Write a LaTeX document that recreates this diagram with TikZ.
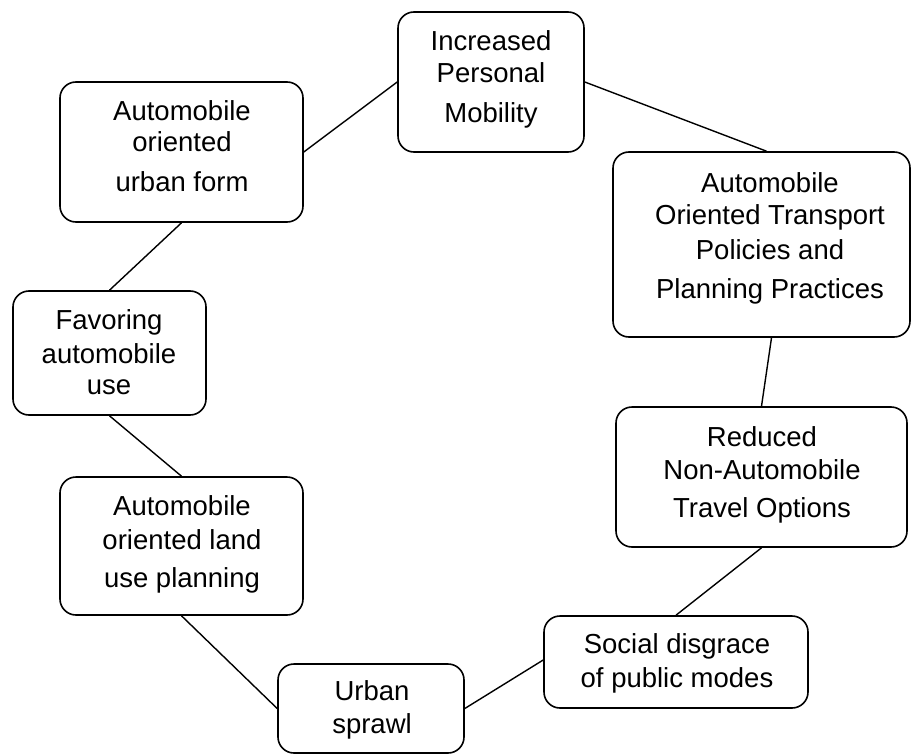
\documentclass[tikz,border=0pt]{standalone}
\usepackage{fontspec}
\setmainfont{Liberation Sans}
\begin{document}
\begin{tikzpicture}[x=1pt,y=-1pt,
  box/.style={draw=black,line width=1.6pt,rounded corners=16pt,rectangle,inner sep=0pt},
  lbl/.style={anchor=base,inner sep=0pt,font=\fontsize{27.5}{33}\selectfont},
  link/.style={draw=black,line width=1.4pt}]
\useasboundingbox (0,0) rectangle (920,754);
% boxes
\node[box,minimum width=186pt,minimum height=140pt] (b1) at (491,82) {};
\node[box,minimum width=297pt,minimum height=185pt] (b2) at (761.5,244.5) {};
\node[box,minimum width=291pt,minimum height=140pt] (b3) at (761.5,477) {};
\node[box,minimum width=264pt,minimum height=92pt] (b4) at (676,662) {};
\node[box,minimum width=186pt,minimum height=89pt] (b5) at (371,708.5) {};
\node[box,minimum width=243pt,minimum height=138pt] (b6) at (181.5,546) {};
\node[box,minimum width=193pt,minimum height=124pt] (b7) at (109.5,353) {};
\node[box,minimum width=243pt,minimum height=140pt] (b8) at (181.5,152) {};
% texts
\node[lbl] (t1a) at (491,51) {Increased};
\node[lbl] (t1b) at (491,83) {Personal};
\node[lbl] (t1c) at (491,123) {Mobility};
\node[lbl] (t2a) at (770,193) {Automobile};
\node[lbl] (t2b) at (770,224) {Oriented Transport};
\node[lbl] (t2c) at (770,259) {Policies and};
\node[lbl] (t2d) at (770,298) {Planning Practices};
\node[lbl] (t3a) at (762,446) {Reduced};
\node[lbl] (t3b) at (762,479) {Non-Automobile};
\node[lbl] (t3c) at (762,517) {Travel Options};
\node[lbl] (t4a) at (677,653) {Social disgrace};
\node[lbl] (t4b) at (677,687) {of public modes};
\node[lbl] (t5a) at (372,700) {Urban};
\node[lbl] (t5b) at (372,733) {sprawl};
\node[lbl] (t6a) at (182,515) {Automobile};
\node[lbl] (t6b) at (182,549) {oriented land};
\node[lbl] (t6c) at (182,587) {use planning};
\node[lbl] (t7a) at (109,329) {Favoring};
\node[lbl] (t7b) at (109,363) {automobile};
\node[lbl] (t7c) at (109,394) {use};
\node[lbl] (t8a) at (182,121) {Automobile};
\node[lbl] (t8b) at (182,152) {oriented};
\node[lbl] (t8c) at (182,192) {urban form};
% connectors
\draw[link] (b1.east) -- ([xshift=5pt]b2.north);
\draw[link] ([xshift=10pt]b2.south) -- (b3.north);
\draw[link] (b3.south) -- (b4.north);
\draw[link] ([yshift=2pt]b4.west) -- (b5.east);
\draw[link] (b5.west) -- (b6.south);
\draw[link] (b6.north) -- (b7.south);
\draw[link] (b7.north) -- (b8.south);
\draw[link] (b8.east) -- (b1.west);
\end{tikzpicture}
\end{document}
